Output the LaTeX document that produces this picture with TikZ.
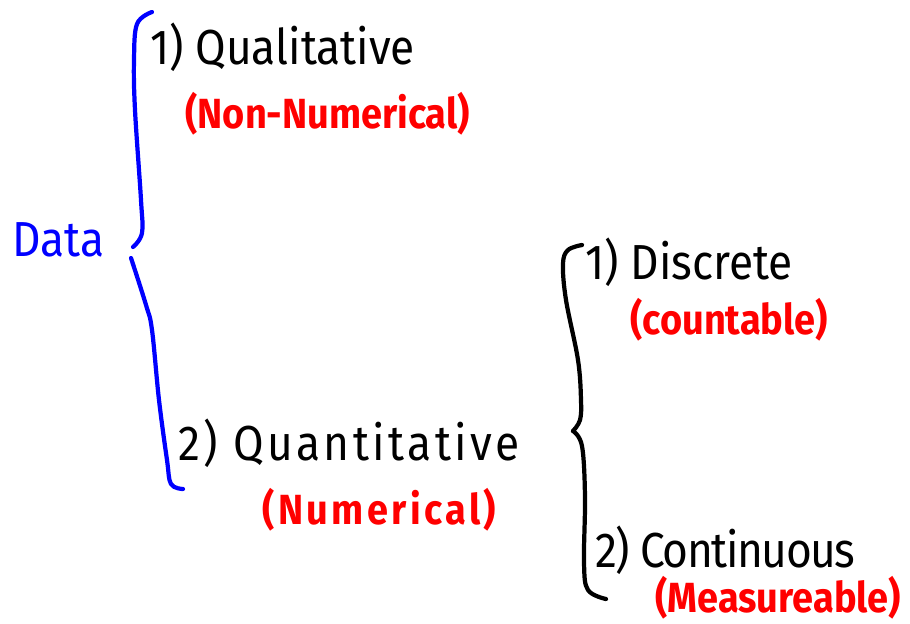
\documentclass[tikz,border=0pt]{standalone}
\usepackage{fontspec}
\setmainfont[FakeStretch=0.9]{Fira Sans}
\usepackage{tikz}
\usetikzlibrary{positioning}

\begin{document}
\begin{tikzpicture}[
    x=0.02cm, y=-0.02cm,
    term/.style={anchor=west, inner sep=0pt, font=\fontsize{28}{32}\selectfont},
    note/.style={anchor=west, inner sep=0pt, text=red, font=\fontsize{24}{28}\selectfont\bfseries},
    wide/.style={font=\fontsize{28}{32}\selectfont\addfontfeature{LetterSpace=7}},
    brace/.style={line width=2.4pt, line cap=round, line join=round}
  ]
    \useasboundingbox (0,0) rectangle (910,623);
    % root
    \node[anchor=west, inner sep=0pt, text=blue, font=\fontsize{28}{32}\selectfont] (data) at (12,240) {Data};
    % first split
    \draw[brace, blue] plot[smooth, tension=0.6] coordinates
      {(152,12) (137,24) (134,60) (135,110) (141,200) (142,233) (133,247)};
    \draw[brace, blue] plot[smooth, tension=0.6] coordinates
      {(131,258) (146,305) (152,330) (159,400) (167,460) (171,484) (183,489)};
    \node[term] (qual) at (150,47) {1) Qualitative};
    \node[note] (nonnum) at (185,114) {(Non-Numerical)};
    \node[term, wide] (quant) at (178,443) {2) Quantitative};
    \node[note, font=\fontsize{24}{28}\selectfont\bfseries\addfontfeature{LetterSpace=8}] (num) at (262,510) {(Numerical)};
    % second split
    \draw[brace, black] plot[smooth, tension=0.6] coordinates
      {(582,245) (568,250) (563,264) (566,300) (578,360) (581,400) (580,420) (573,431)};
    \draw[brace, black] plot[smooth, tension=0.6] coordinates
      {(573,431) (582,446) (585,497) (584,563) (588,590) (606,599)};
    \node[term] (disc) at (585,262) {1) Discrete};
    \node[note] (count) at (630,320) {(countable)};
    \node[term, font=\fontsize{28}{32}\selectfont\addfontfeature{LetterSpace=-3}] (cont) at (595,550) {2) Continuous};
    \node[note] (meas) at (655,598) {(Measureable)};
  \end{tikzpicture}
\end{document}
